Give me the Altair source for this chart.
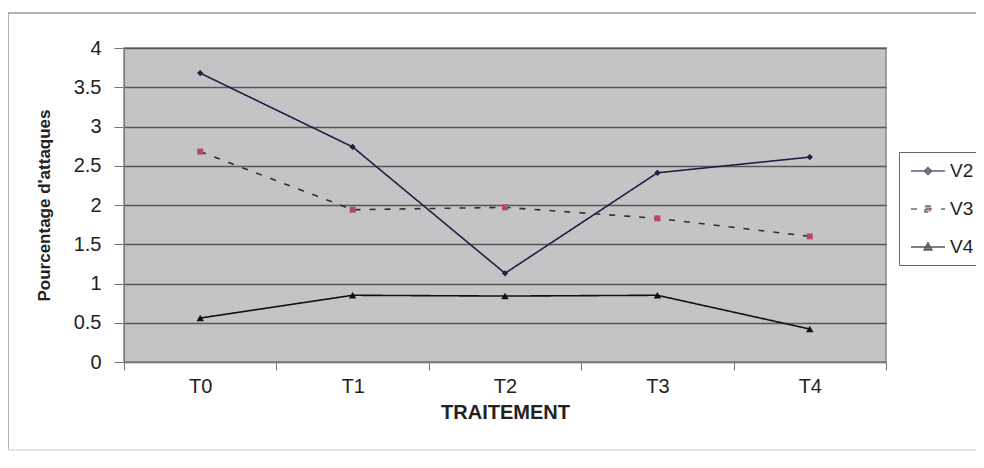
import altair as alt
import pandas as pd

categories = ["T0", "T1", "T2", "T3", "T4"]
series_names = ["V2", "V3", "V4"]
v2 = [3.68, 2.74, 1.13, 2.41, 2.61]
v3 = [2.68, 1.94, 1.97, 1.83, 1.60]
v4 = [0.56, 0.85, 0.84, 0.85, 0.42]
y_ticks = [0, 0.5, 1, 1.5, 2, 2.5, 3, 3.5, 4]

rows = []
for name, vals in zip(series_names, [v2, v3, v4]):
    for c, v in zip(categories, vals):
        rows.append({"traitement": c, "serie": name, "valeur": v})
df = pd.DataFrame(rows)

line_colors = ["#1f1f45", "#2e2e2e", "#111111"]
marker_colors = ["#1f1f45", "#b8456c", "#111111"]
dashes = [[1, 0], [6, 9], [1, 0]]
marker_shapes = ["diamond", "square", "triangle-up"]
legend_paths = [
    "M-1.7,0H1.7M0,-0.35L0.35,0L0,0.35L-0.35,0Z",
    "M-1.7,0H1.7M-0.3,-0.3H0.3V0.3H-0.3Z",
    "M-1.7,0H1.7M0,-0.4L0.38,0.3H-0.38Z",
]

FONT = "Liberation Sans"
W, H = 762, 314

x_enc = alt.X(
    "traitement:N",
    sort=categories,
    scale=alt.Scale(type="band", domain=categories, paddingInner=0, paddingOuter=0),
    bandPosition=0.5,
    axis=alt.Axis(
        title="TRAITEMENT", tickBand="extent", tickSize=8, labelFontSize=20,
        labelPadding=6, titleFontSize=20, titleFontWeight="bold", titlePadding=6,
        labelAngle=0, domainColor="#777", tickColor="#777", labelColor="#222",
        titleColor="#222", grid=False,
    ),
)
y_enc = alt.Y(
    "valeur:Q",
    scale=alt.Scale(domain=[0, 4], nice=False),
    axis=alt.Axis(
        title="Pourcentage d'attaques", values=y_ticks, format="~g", tickSize=10,
        labelFontSize=20, labelPadding=13, titleFontSize=17, titleFontWeight="bold",
        titlePadding=20, grid=True, gridColor="#555", gridWidth=1.5,
        domainColor="#777", tickColor="#777", labelColor="#222", titleColor="#222",
    ),
)

stroke_scale = alt.Scale(domain=series_names, range=line_colors)
fill_scale = alt.Scale(domain=series_names, range=marker_colors)
dash_scale = alt.Scale(domain=series_names, range=dashes)
shape_scale = alt.Scale(domain=series_names, range=legend_paths)

one = pd.DataFrame({"b": [0]})
frame_style = dict(color="#999", strokeWidth=1.5)
frame_left = alt.Chart(one).mark_rule(**frame_style).encode(
    x=alt.value(-116), y=alt.value(-35), y2=alt.value(H + 88))
frame_top = alt.Chart(one).mark_rule(**frame_style).encode(
    x=alt.value(-116), x2=alt.value(W + 300), y=alt.value(-35))
frame_bottom = alt.Chart(one).mark_rule(color="#ddd", strokeWidth=1.5).encode(
    x=alt.value(-116), x2=alt.value(W + 300), y=alt.value(H + 88))

lines = alt.Chart(df).mark_line(strokeWidth=1.6).encode(
    x=x_enc, y=y_enc,
    stroke=alt.Stroke("serie:N", scale=stroke_scale, title=None),
    strokeDash=alt.StrokeDash("serie:N", scale=dash_scale, title=None),
)

point_layers = []
for name, shp, sz in zip(series_names, marker_shapes, [40, 36, 55]):
    point_layers.append(
        alt.Chart(df).transform_filter(alt.datum.serie == name)
        .mark_point(filled=True, shape=shp, size=sz, opacity=1)
        .encode(x=x_enc, y=y_enc,
                fill=alt.Fill("serie:N", scale=fill_scale, title=None))
    )

legend_layer = alt.Chart(df).transform_filter("datum.serie == 'none'").mark_point(
    strokeWidth=1.5
).encode(
    x=x_enc, y=y_enc,
    shape=alt.Shape("serie:N", scale=shape_scale, title=None),
    stroke=alt.Stroke("serie:N", scale=stroke_scale, title=None),
    fill=alt.Fill("serie:N", scale=fill_scale, title=None),
    strokeDash=alt.StrokeDash("serie:N", scale=dash_scale, title=None),
)

chart = alt.layer(frame_left, frame_top, frame_bottom, lines, *point_layers,
                  legend_layer).properties(
    width=W, height=H,
    autosize=alt.AutoSizeParams(type="none"),
    padding={"left": 116, "top": 40, "right": 90, "bottom": 90},
).configure(
    font=FONT, background="white"
).configure_view(
    fill="#c4c4c7", stroke="#888", strokeWidth=1.5
).configure_legend(
    orient="none", legendX=775, legendY=104, padding=8,
    strokeColor="#666", fillColor="white", labelFontSize=19, labelColor="#222",
    symbolSize=400, symbolStrokeWidth=1.5, rowPadding=17, labelOffset=11,
    symbolOffset=10, cornerRadius=0,
)

chart.save("out.html", embed_options={"renderer": "svg", "actions": False})
